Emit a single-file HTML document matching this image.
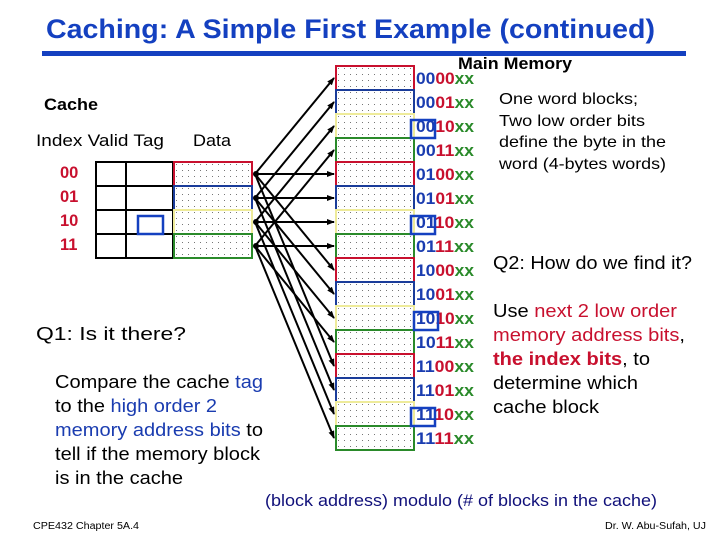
<!DOCTYPE html>
<html><head><meta charset="utf-8"><style>
body{margin:0;background:#fff;width:720px;height:540px;overflow:hidden}
svg{display:block;font-family:"Liberation Sans",sans-serif}
</style></head><body>
<svg width="720" height="540" viewBox="0 0 720 540">
<defs>
<pattern id="dots" width="6" height="6" patternUnits="userSpaceOnUse"><rect x="2" y="2" width="1" height="1" fill="#777"/></pattern>
<marker id="ah" markerWidth="8" markerHeight="8" refX="7" refY="4" orient="auto" markerUnits="userSpaceOnUse"><path d="M0,1 L8,4 L0,7 z" fill="#000"/></marker>
</defs>
<text x="46" y="38" font-size="27" font-weight="bold" fill="#1440c0" textLength="609" lengthAdjust="spacingAndGlyphs">Caching:  A Simple First Example (continued)</text>
<rect x="42" y="51" width="644" height="5" fill="#1440c0"/>
<text x="458" y="69" font-size="16.5" font-weight="bold" textLength="114" lengthAdjust="spacingAndGlyphs">Main Memory</text>

<!-- cache -->
<text x="44" y="110" font-size="16.5" font-weight="bold" textLength="54" lengthAdjust="spacingAndGlyphs">Cache</text>
<text x="36" y="146" font-size="16.5" textLength="128" lengthAdjust="spacingAndGlyphs">Index Valid  Tag</text>
<text x="193" y="146" font-size="16.5" textLength="38" lengthAdjust="spacingAndGlyphs">Data</text>
<g font-size="16.5" fill="#c8102e" font-weight="bold">
<text x="60" y="178">00</text><text x="60" y="202">01</text><text x="60" y="226">10</text><text x="60" y="250">11</text>
</g>
<g fill="none" stroke="#000" stroke-width="2">
<rect x="96" y="162" width="77" height="96"/>
<line x1="126" y1="162" x2="126" y2="258"/>
<line x1="96" y1="186" x2="173" y2="186"/><line x1="96" y1="210" x2="173" y2="210"/><line x1="96" y1="234" x2="173" y2="234"/>
</g>
<rect x="138" y="216" width="25" height="18" fill="none" stroke="#1440c0" stroke-width="2.5"/>
<g stroke-width="2">
<rect x="174" y="162" width="78" height="24" fill="url(#dots)" stroke="#c8102e"/>
<rect x="174" y="186" width="78" height="24" fill="url(#dots)" stroke="#1a3c9a"/>
<rect x="174" y="210" width="78" height="24" fill="url(#dots)" stroke="#eeeb9a"/>
<rect x="174" y="234" width="78" height="24" fill="url(#dots)" stroke="#2a8a2a"/>
</g>

<!-- memory -->
<g stroke-width="2">
<rect x="336" y="66" width="78" height="24" fill="url(#dots)" stroke="#c8102e"/>
<rect x="336" y="90" width="78" height="24" fill="url(#dots)" stroke="#1a3c9a"/>
<rect x="336" y="114" width="78" height="24" fill="url(#dots)" stroke="#eeeb9a"/>
<rect x="336" y="138" width="78" height="24" fill="url(#dots)" stroke="#2a8a2a"/>
<rect x="336" y="162" width="78" height="24" fill="url(#dots)" stroke="#c8102e"/>
<rect x="336" y="186" width="78" height="24" fill="url(#dots)" stroke="#1a3c9a"/>
<rect x="336" y="210" width="78" height="24" fill="url(#dots)" stroke="#eeeb9a"/>
<rect x="336" y="234" width="78" height="24" fill="url(#dots)" stroke="#2a8a2a"/>
<rect x="336" y="258" width="78" height="24" fill="url(#dots)" stroke="#c8102e"/>
<rect x="336" y="282" width="78" height="24" fill="url(#dots)" stroke="#1a3c9a"/>
<rect x="336" y="306" width="78" height="24" fill="url(#dots)" stroke="#eeeb9a"/>
<rect x="336" y="330" width="78" height="24" fill="url(#dots)" stroke="#2a8a2a"/>
<rect x="336" y="354" width="78" height="24" fill="url(#dots)" stroke="#c8102e"/>
<rect x="336" y="378" width="78" height="24" fill="url(#dots)" stroke="#1a3c9a"/>
<rect x="336" y="402" width="78" height="24" fill="url(#dots)" stroke="#eeeb9a"/>
<rect x="336" y="426" width="78" height="24" fill="url(#dots)" stroke="#2a8a2a"/>
</g>
<g font-size="16.5" font-weight="bold">
<text x="416" y="84" textLength="58" lengthAdjust="spacingAndGlyphs"><tspan fill="#1a3cb0">00</tspan><tspan fill="#c8102e">00</tspan><tspan fill="#2a8a2a">xx</tspan></text>
<text x="416" y="108" textLength="58" lengthAdjust="spacingAndGlyphs"><tspan fill="#1a3cb0">00</tspan><tspan fill="#c8102e">01</tspan><tspan fill="#2a8a2a">xx</tspan></text>
<text x="416" y="132" textLength="58" lengthAdjust="spacingAndGlyphs"><tspan fill="#1a3cb0">00</tspan><tspan fill="#c8102e">10</tspan><tspan fill="#2a8a2a">xx</tspan></text>
<text x="416" y="156" textLength="58" lengthAdjust="spacingAndGlyphs"><tspan fill="#1a3cb0">00</tspan><tspan fill="#c8102e">11</tspan><tspan fill="#2a8a2a">xx</tspan></text>
<text x="416" y="180" textLength="58" lengthAdjust="spacingAndGlyphs"><tspan fill="#1a3cb0">01</tspan><tspan fill="#c8102e">00</tspan><tspan fill="#2a8a2a">xx</tspan></text>
<text x="416" y="204" textLength="58" lengthAdjust="spacingAndGlyphs"><tspan fill="#1a3cb0">01</tspan><tspan fill="#c8102e">01</tspan><tspan fill="#2a8a2a">xx</tspan></text>
<text x="416" y="228" textLength="58" lengthAdjust="spacingAndGlyphs"><tspan fill="#1a3cb0">01</tspan><tspan fill="#c8102e">10</tspan><tspan fill="#2a8a2a">xx</tspan></text>
<text x="416" y="252" textLength="58" lengthAdjust="spacingAndGlyphs"><tspan fill="#1a3cb0">01</tspan><tspan fill="#c8102e">11</tspan><tspan fill="#2a8a2a">xx</tspan></text>
<text x="416" y="276" textLength="58" lengthAdjust="spacingAndGlyphs"><tspan fill="#1a3cb0">10</tspan><tspan fill="#c8102e">00</tspan><tspan fill="#2a8a2a">xx</tspan></text>
<text x="416" y="300" textLength="58" lengthAdjust="spacingAndGlyphs"><tspan fill="#1a3cb0">10</tspan><tspan fill="#c8102e">01</tspan><tspan fill="#2a8a2a">xx</tspan></text>
<text x="416" y="324" textLength="58" lengthAdjust="spacingAndGlyphs"><tspan fill="#1a3cb0">10</tspan><tspan fill="#c8102e">10</tspan><tspan fill="#2a8a2a">xx</tspan></text>
<text x="416" y="348" textLength="58" lengthAdjust="spacingAndGlyphs"><tspan fill="#1a3cb0">10</tspan><tspan fill="#c8102e">11</tspan><tspan fill="#2a8a2a">xx</tspan></text>
<text x="416" y="372" textLength="58" lengthAdjust="spacingAndGlyphs"><tspan fill="#1a3cb0">11</tspan><tspan fill="#c8102e">00</tspan><tspan fill="#2a8a2a">xx</tspan></text>
<text x="416" y="396" textLength="58" lengthAdjust="spacingAndGlyphs"><tspan fill="#1a3cb0">11</tspan><tspan fill="#c8102e">01</tspan><tspan fill="#2a8a2a">xx</tspan></text>
<text x="416" y="420" textLength="58" lengthAdjust="spacingAndGlyphs"><tspan fill="#1a3cb0">11</tspan><tspan fill="#c8102e">10</tspan><tspan fill="#2a8a2a">xx</tspan></text>
<text x="416" y="444" textLength="58" lengthAdjust="spacingAndGlyphs"><tspan fill="#1a3cb0">11</tspan><tspan fill="#c8102e">11</tspan><tspan fill="#2a8a2a">xx</tspan></text>
</g>
<g fill="none" stroke="#1440c0" stroke-width="2.5">
<rect x="411" y="120" width="24" height="18"/>
<rect x="411" y="216" width="24" height="18"/>
<rect x="414" y="312" width="24" height="18"/>
<rect x="411" y="408" width="24" height="18"/>
</g>

<!-- arrows -->
<g stroke="#000" stroke-width="2" marker-end="url(#ah)">
<line x1="255" y1="174" x2="334" y2="78"/><line x1="255" y1="174" x2="334" y2="174"/><line x1="255" y1="174" x2="334" y2="270"/><line x1="255" y1="174" x2="334" y2="366"/>
<line x1="255" y1="198" x2="334" y2="102"/><line x1="255" y1="198" x2="334" y2="198"/><line x1="255" y1="198" x2="334" y2="294"/><line x1="255" y1="198" x2="334" y2="390"/>
<line x1="255" y1="222" x2="334" y2="126"/><line x1="255" y1="222" x2="334" y2="222"/><line x1="255" y1="222" x2="334" y2="318"/><line x1="255" y1="222" x2="334" y2="414"/>
<line x1="255" y1="246" x2="334" y2="150"/><line x1="255" y1="246" x2="334" y2="246"/><line x1="255" y1="246" x2="334" y2="342"/><line x1="255" y1="246" x2="334" y2="438"/>
</g>
<g fill="#000"><circle cx="256" cy="174" r="3"/><circle cx="256" cy="198" r="3"/><circle cx="256" cy="222" r="3"/><circle cx="256" cy="246" r="3"/></g>

<!-- right text -->
<g font-size="16">
<text x="499" y="104" textLength="139" lengthAdjust="spacingAndGlyphs">One word blocks;</text>
<text x="499" y="126" textLength="146" lengthAdjust="spacingAndGlyphs">Two low order bits</text>
<text x="499" y="147" textLength="167" lengthAdjust="spacingAndGlyphs">define the byte in the</text>
<text x="499" y="169" textLength="167" lengthAdjust="spacingAndGlyphs">word (4-bytes words)</text>
</g>
<g font-size="18.5">
<text x="493" y="269" textLength="199" lengthAdjust="spacingAndGlyphs">Q2: How do we find it?</text>
<text x="493" y="317" textLength="184" lengthAdjust="spacingAndGlyphs">Use <tspan fill="#c8102e">next 2 low order</tspan></text>
<text x="493" y="341" textLength="192" lengthAdjust="spacingAndGlyphs"><tspan fill="#c8102e">memory address bits</tspan>,</text>
<text x="493" y="365" textLength="157" lengthAdjust="spacingAndGlyphs"><tspan fill="#c8102e" font-weight="bold">the index bits</tspan>, to</text>
<text x="493" y="389" textLength="145" lengthAdjust="spacingAndGlyphs">determine which</text>
<text x="493" y="413" textLength="106" lengthAdjust="spacingAndGlyphs">cache block</text>
</g>

<!-- left text -->
<g font-size="18.5">
<text x="36" y="340" textLength="150" lengthAdjust="spacingAndGlyphs">Q1: Is it there?</text>
<text x="55" y="388" textLength="208" lengthAdjust="spacingAndGlyphs">Compare the cache <tspan fill="#1a3cb0">tag</tspan></text>
<text x="55" y="412" textLength="162" lengthAdjust="spacingAndGlyphs">to the <tspan fill="#1a3cb0">high order 2</tspan></text>
<text x="55" y="436" textLength="208" lengthAdjust="spacingAndGlyphs"><tspan fill="#1a3cb0">memory address bits</tspan> to</text>
<text x="55" y="460" textLength="205" lengthAdjust="spacingAndGlyphs">tell if the memory block</text>
<text x="55" y="484" textLength="128" lengthAdjust="spacingAndGlyphs">is in the cache</text>
</g>
<text x="265" y="506" font-size="16.5" fill="#10107a" textLength="392" lengthAdjust="spacingAndGlyphs">(block address) modulo (# of blocks in the cache)</text>
<text x="33" y="529" font-size="10" textLength="106" lengthAdjust="spacingAndGlyphs">CPE432  Chapter 5A.4</text>
<text x="605" y="529" font-size="10" textLength="101" lengthAdjust="spacingAndGlyphs">Dr. W. Abu-Sufah, UJ</text>
</svg>
</body></html>
